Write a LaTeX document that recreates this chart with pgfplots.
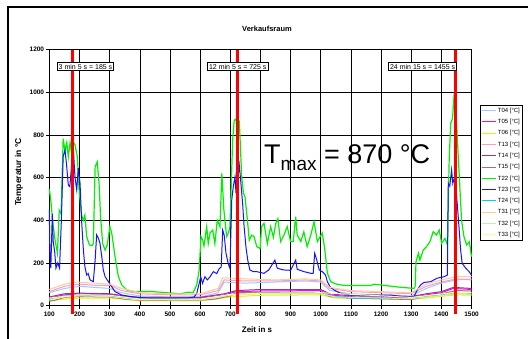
\documentclass[border=0pt]{standalone}
\usepackage{fontspec}
\setmainfont{Liberation Sans}
\usepackage{pgfplots}
\pgfplotsset{compat=1.18}
\definecolor{cT04}{RGB}{153,204,255}
\definecolor{cT05}{RGB}{255,0,255}
\definecolor{cT06}{RGB}{240,240,0}
\definecolor{cT13}{RGB}{255,153,204}
\definecolor{cT14}{RGB}{153,51,153}
\definecolor{cT15}{RGB}{179,107,107}
\definecolor{cT22}{RGB}{0,240,0}
\definecolor{cT23}{RGB}{20,20,255}
\definecolor{cT24}{RGB}{0,204,255}
\definecolor{cT31}{RGB}{255,204,153}
\definecolor{cT32}{RGB}{190,240,190}
\definecolor{cT33}{RGB}{255,255,140}
\begin{document}
\begin{tikzpicture}[x=1pt,y=1pt]
\useasboundingbox (0,0) rectangle (528,338);
\fill[white] (0,0) rectangle (528,338);
\draw[line width=1.6pt] (8,-5) -- (8,331) -- (535,331);
\node[font=\bfseries\fontsize{7.5}{8}\selectfont] at (267,309) {Verkaufsraum};
\node[font=\bfseries\fontsize{8}{9}\selectfont] at (257,8) {Zeit in s};
\node[font=\bfseries\fontsize{8.5}{9}\selectfont, rotate=90] at (19,166) {Temperatur in °C};
\node[anchor=base west, inner sep=0pt, font=\fontsize{27}{29}\selectfont] at (264,174) {T\raisebox{-6pt}{\fontsize{19}{21}\selectfont max} = 870 °C};
\begin{axis}[
  at={(49.3pt,32.5pt)}, anchor=south west,
  scale only axis, width=422.2pt, height=255.8pt,
  xmin=100, xmax=1500, ymin=0, ymax=1200,
  xtick={100,200,...,1500}, ytick={0,200,...,1200},
  /pgf/number format/1000 sep={},
  /pgf/number format/assume math mode=true,
  grid=major, major grid style={black, line width=0.5pt},
  axis line style={black, line width=0.9pt},
  tick align=outside, tick pos=left, major tick length=3pt,
  tick style={black, line width=0.6pt},
  ticklabel style={font=\bfseries\fontsize{6.5}{7}\selectfont},
  yticklabel style={inner sep=1pt, xshift=-1pt},
  xticklabel style={inner sep=1pt, yshift=-2pt},
  clip=false,
  legend style={at={(1.0201,0.7838)}, anchor=north west, draw=black, line width=0.7pt,
    font=\fontsize{6}{7}\selectfont, inner sep=1.5pt, row sep=3.9pt,
    nodes={inner sep=0.8pt, text height=4.6pt, text depth=1.2pt}},
  legend cell align=left,
  legend image code/.code={\draw[#1] (0pt,0pt) -- (14pt,0pt);},
]
\addplot[cT04, line width=1pt] coordinates {(100,60)(150,80)(200,90)(250,85)(300,80)(340,60)(400,45)(500,40)(600,40)(660,60)(680,110)(750,105)(850,110)(950,115)(1000,110)(1030,70)(1100,55)(1200,50)(1300,45)(1350,80)(1400,105)(1450,120)(1500,125)};
\addlegendentry{T04 [°C]}
\addplot[cT05, line width=1pt] coordinates {(100,35)(150,50)(200,55)(300,52)(350,40)(400,35)(600,35)(680,50)(720,65)(800,68)(1000,70)(1030,50)(1100,40)(1300,38)(1350,50)(1400,60)(1440,80)(1500,75)};
\addlegendentry{T05 [°C]}
\addplot[cT06, line width=1pt] coordinates {(100,22)(150,30)(200,35)(300,35)(400,22)(600,22)(700,40)(800,48)(1000,50)(1050,35)(1300,28)(1450,50)(1500,48)};
\addlegendentry{T06 [°C]}
\addplot[cT13, line width=1pt] coordinates {(100,65)(150,90)(200,100)(250,95)(300,95)(340,70)(400,55)(500,50)(600,50)(660,70)(680,120)(750,115)(850,115)(950,120)(1000,115)(1030,80)(1100,65)(1200,60)(1300,55)(1350,90)(1400,110)(1450,125)(1500,120)};
\addlegendentry{T13 [°C]}
\addplot[cT14, line width=1pt] coordinates {(100,40)(150,55)(200,58)(300,55)(350,45)(400,38)(600,38)(680,55)(720,70)(800,75)(1000,75)(1030,55)(1100,45)(1300,42)(1350,55)(1400,65)(1440,85)(1500,80)};
\addlegendentry{T14 [°C]}
\addplot[cT15, line width=1pt] coordinates {(100,20)(120,25)(150,38)(200,42)(300,40)(350,30)(400,25)(600,25)(650,30)(700,45)(720,60)(800,62)(1000,62)(1030,42)(1100,35)(1300,28)(1400,55)(1450,70)(1500,68)};
\addlegendentry{T15 [°C]}
\addplot[cT22, line width=1.2pt] coordinates {(100,546)(105,494)(111,400)(119,307)(127,246)(133,447)(139,430)(146,783)(152,727)(158,765)(163,697)(169,765)(174,711)(180,765)(185,755)(193,697)(199,541)(207,424)(213,400)(218,424)(224,323)(233,284)(241,280)(246,290)(252,650)(259,674)(265,573)(270,417)(277,290)(285,260)(292,284)(301,370)(307,340)(318,229)(329,136)(340,97)(357,73)(378,66)(434,66)(489,60)(533,55)(560,62)(577,60)(589,97)(597,167)(603,323)(609,306)(613,280)(622,370)(627,290)(633,340)(642,354)(649,290)(657,400)(666,370)(672,620)(679,447)(688,323)(694,340)(699,370)(708,775)(713,868)(719,875)(723,800)(730,868)(738,603)(744,526)(749,510)(757,400)(763,306)(771,330)(779,323)(788,276)(799,267)(804,370)(812,385)(823,290)(834,370)(843,320)(851,385)(858,407)(867,300)(878,330)(889,370)(900,300)(909,300)(917,417)(922,330)(934,300)(944,346)(955,276)(967,330)(978,393)(989,300)(1005,340)(1013,269)(1022,152)(1033,112)(1050,101)(1077,94)(1166,94)(1177,100)(1254,87)(1309,80)(1313,88)(1316,205)(1324,245)(1329,213)(1340,260)(1351,276)(1362,299)(1373,346)(1384,331)(1393,354)(1401,292)(1412,315)(1420,284)(1426,683)(1431,855)(1437,878)(1442,980)(1445,964)(1451,839)(1459,620)(1467,401)(1475,323)(1484,284)(1493,299)(1500,229)};
\addlegendentry{T22 [°C]}
\addplot[cT23, line width=1pt] coordinates {(100,450)(102,230)(105,175)(110,430)(113,300)(118,250)(122,175)(128,200)(134,175)(140,400)(146,698)(152,730)(157,664)(163,565)(168,557)(174,659)(180,730)(185,604)(191,542)(196,644)(202,573)(207,401)(213,260)(218,182)(224,143)(229,150)(235,120)(246,112)(252,213)(257,331)(263,315)(268,292)(274,229)(279,167)(285,135)(296,112)(307,88)(318,65)(340,49)(373,41)(440,33)(500,33)(560,35)(580,40)(589,57)(597,104)(602,135)(608,104)(616,135)(624,120)(633,135)(644,159)(655,150)(664,174)(670,180)(675,354)(680,330)(686,245)(693,198)(699,174)(705,495)(710,557)(716,604)(719,527)(723,570)(730,659)(734,596)(741,479)(746,370)(752,276)(758,213)(765,167)(776,159)(787,159)(812,151)(828,167)(848,213)(856,175)(876,167)(900,165)(917,213)(922,170)(944,159)(967,151)(975,150)(980,245)(987,213)(995,167)(1005,159)(1016,143)(1022,112)(1031,88)(1044,73)(1066,57)(1099,49)(1166,49)(1232,49)(1276,41)(1309,41)(1320,73)(1331,96)(1342,108)(1365,112)(1386,128)(1409,135)(1420,143)(1423,573)(1428,560)(1434,636)(1438,573)(1444,604)(1450,526)(1456,417)(1464,260)(1469,198)(1481,175)(1492,159)(1500,143)};
\addlegendentry{T23 [°C]}
\addplot[cT24, line width=1pt] coordinates {(100,30)(150,45)(200,48)(300,45)(350,35)(400,30)(600,30)(680,45)(720,55)(800,58)(1000,58)(1030,45)(1100,35)(1300,33)(1400,50)(1450,60)(1500,58)};
\addlegendentry{T24 [°C]}
\addplot[cT31, line width=1pt] coordinates {(100,75)(150,100)(190,110)(250,105)(300,100)(340,80)(400,60)(500,55)(600,55)(660,80)(675,130)(750,125)(850,120)(950,125)(1000,120)(1030,85)(1100,70)(1200,65)(1300,60)(1350,100)(1400,120)(1450,135)(1500,135)};
\addlegendentry{T31 [°C]}
\addplot[cT32, line width=1pt] coordinates {(100,28)(150,40)(200,45)(300,42)(380,28)(600,26)(700,48)(800,55)(1000,55)(1050,40)(1300,32)(1450,55)(1500,52)};
\addlegendentry{T32 [°C]}
\addplot[cT33, line width=1pt] coordinates {(100,35)(200,50)(300,48)(400,30)(600,30)(700,52)(800,58)(1000,60)(1300,38)(1450,62)(1500,60)};
\addlegendentry{T33 [°C]}
\addplot[red, line width=2.8pt, forget plot] coordinates {(178,-40)(178,1200)};
\addplot[red, line width=2.8pt, forget plot] coordinates {(723,-40)(723,1200)};
\addplot[red, line width=2.8pt, forget plot] coordinates {(1448,-40)(1448,1200)};
\node[draw=black, line width=0.6pt, fill=white, inner sep=1.5pt, font=\fontsize{7}{8}\selectfont] at (axis cs:220,1121) {3 min 5 s = 185 s};
\node[draw=black, line width=0.6pt, fill=white, inner sep=1.5pt, font=\fontsize{7}{8}\selectfont] at (axis cs:725,1121) {12 min 5 s = 725 s};
\node[draw=black, line width=0.6pt, fill=white, inner sep=1.5pt, font=\fontsize{7}{8}\selectfont] at (axis cs:1338,1121) {24 min 15 s = 1455 s};
\end{axis}
\end{tikzpicture}
\end{document}
